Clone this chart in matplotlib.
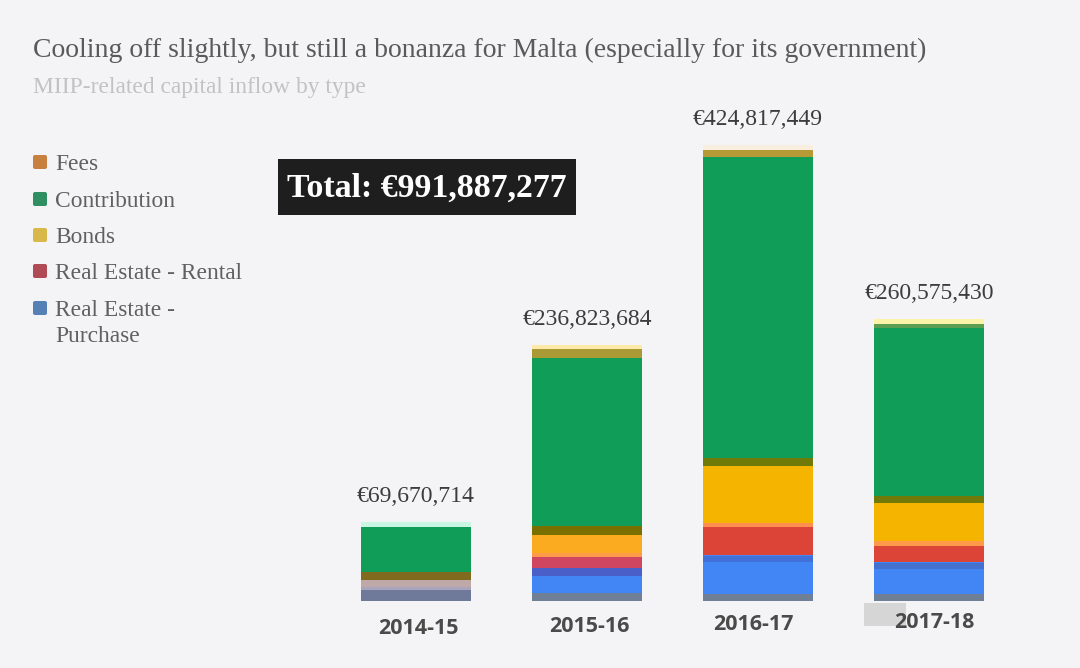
import matplotlib
matplotlib.use("Agg")
import matplotlib.pyplot as plt
from matplotlib.patches import FancyBboxPatch

BG = "#f4f4f6"
SERIF = ["Liberation Serif", "DejaVu Serif"]

years = ["2014-15", "2015-16", "2016-17", "2017-18"]
totals = [69670714, 236823684, 424817449, 260575430]

# values in euro
purchase = [10.4e6, 31.0e6, 43.3e6, 36.7e6]
rental = [3.0e6, 10.0e6, 26.4e6, 15.1e6]
bonds = [5.0e6, 20.7e6, 57.4e6, 40.5e6]
contribution = [50.3e6, 167.0e6, 290.8e6, 165.0e6]
fees = [0.97e6, 8.12e6, 6.92e6, 3.28e6]

# colours per year, the 2014-15 ones are washed out in the picture
series = [
    ("Real Estate - Purchase", purchase, ["#6f7a9a", "#4285f4", "#4285f4", "#4285f4"]),
    ("Real Estate - Rental", rental, ["#a9a3bb", "#d0455f", "#db4437", "#db4437"]),
    ("Bonds", bonds, ["#bfa8a8", "#fbab1f", "#f4b400", "#f4b400"]),
    ("Contribution", contribution, ["#0f9d58"] * 4),
    ("Fees", fees, ["#0f9d58", "#a99a35", "#b59a35", "#5c9f52"]),
]

fig = plt.figure(figsize=(10.8, 6.68), dpi=100, facecolor=BG)
ax = fig.add_axes([0, 0, 1, 1])
ax.set_xlim(0, 1080)
ax.set_ylim(668, 0)
ax.axis("off")

# bar axes: one unit on x per category, euro on y
bar_ax = fig.add_axes([330.5 / 1080, 67 / 668, 684 / 1080, 534 / 668])
bar_ax.patch.set_alpha(0)
bar_ax.set_xlim(-0.5, 3.5)
bar_ax.set_ylim(0, 534 * 0.9415e6)
width = 0.643
x = range(4)

# pale halo above each bar
bar_ax.bar(x, [4.5e6] * 4, width=width, bottom=totals,
           color=["#c9f5e2", "#fde9a8", "#f9efe0", "#fbf3a8"], linewidth=0)

bottom = [0, 0, 0, 0]
edges = {}
for name, values, colors in series:
    bar_ax.bar(x, values, width=width, bottom=bottom, color=colors, linewidth=0)
    bottom = [b + v for b, v in zip(bottom, values)]
    edges[name] = list(bottom)

# darker and lighter bands where the colours meet
bar_ax.bar(x, [9.0e6, 9.0e6, 8.0e6, 7.0e6], width=width, bottom=edges["Bonds"],
           color=["#7f6a1e", "#7a7000", "#6f7a08", "#6f7a08"], linewidth=0)
bar_ax.bar(x, [6.0e6, 4.0e6, 4.0e6, 5.0e6], width=width,
           bottom=edges["Real Estate - Rental"],
           color=["#bfa8a8", "#ff9a4a", "#ff8f50", "#ff9a4a"], linewidth=0)
bar_ax.bar(x[1:], [7.0e6, 6.0e6, 6.0e6], width=width,
           bottom=[e - 7.0e6 for e in edges["Real Estate - Purchase"][1:]],
           color=["#4a5fc8", "#4170d8", "#4470d0"], linewidth=0)
bar_ax.bar(x[1:], [8.0e6, 7.0e6, 7.0e6], width=width, bottom=0,
           color=["#6f7f96", "#6f7f96", "#6f7f96"], linewidth=0)
bar_ax.axis("off")

for i, total in enumerate(totals):
    bar_ax.text(i, total + 28.5e6, "€{:,}".format(total), ha="center", va="center",
                fontsize=17, color="#3c3c3c", family=SERIF)

# grey smudge left of the last label
ax.add_patch(plt.Rectangle((864, 603), 42, 23, facecolor="#d6d6d6", edgecolor="none"))

label_y = [629, 627, 625, 623]
label_x = [418, 589, 753, 934]
for lx, ly, year in zip(label_x, label_y, years):
    ax.text(lx, ly, year, ha="center", va="center", fontsize=15.5, fontweight="bold",
            color="#4a4a4a", family="Open Sans")

ax.text(33, 50, "Cooling off slightly, but still a bonanza for Malta (especially for its government)",
        fontsize=19.95, color="#5a5a5a", va="center", family=SERIF)
ax.text(33, 87, "MIIP-related capital inflow by type", fontsize=16.9, color="#c2c2c2",
        va="center", family=SERIF)

legend = [
    (162, "Fees", "#c8803f"),
    (199, "Contribution", "#2f8f63"),
    (235, "Bonds", "#d9b84a"),
    (271, "Real Estate - Rental", "#b04a55"),
    (308, "Real Estate -\nPurchase", "#5580b5"),
]
for y, name, color in legend:
    ax.add_patch(FancyBboxPatch((33, y - 7), 14, 14, boxstyle="round,pad=0,rounding_size=2",
                                facecolor=color, edgecolor="none"))
    ax.text(55, y - 8, name, fontsize=16.9, color="#606060", va="top", family=SERIF, linespacing=1.3)

ax.add_patch(plt.Rectangle((278, 159), 298, 56, facecolor="#1e1e1e", edgecolor="none"))
ax.text(427, 188, "Total: €991,887,277", ha="center", va="center", fontsize=24.4,
        fontweight="bold", color="white", family=SERIF)

fig.savefig("out.png", dpi=100, facecolor=BG)
